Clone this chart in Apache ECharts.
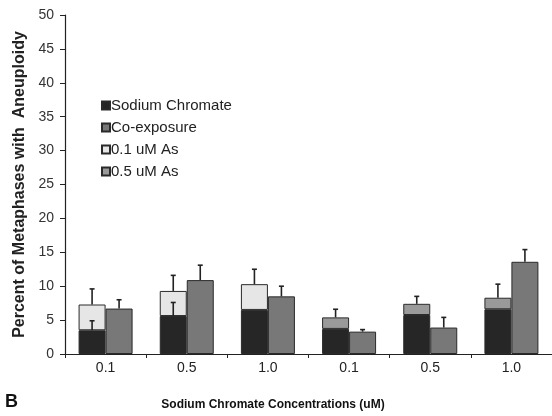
<!DOCTYPE html>
<html>
<head>
<meta charset="utf-8">
<script src="https://cdn.jsdelivr.net/npm/echarts@6/dist/echarts.min.js"></script>
<style>
  html, body { margin: 0; padding: 0; background: #fff; }
  #chart { width: 552px; height: 416px; }
</style>
</head>
<body>
<div id="chart"></div>
<script>
// Sodium chromate concentrations (uM), first three with 0.1 uM As, last three with 0.5 uM As
const categories = ['0.1', '0.5', '1.0', '0.1', '0.5', '1.0'];
const yTicks = [0, 5, 10, 15, 20, 25, 30, 35, 40, 45, 50];

// Percent of metaphases with aneuploidy (stacked segments)
const chromate = [3.5, 5.6, 6.5, 3.7, 5.75, 6.6];
const as01 = [3.8, 3.7, 3.8, null, null, null];
const as05 = [null, null, null, 1.7, 1.65, 1.7];
const coExposure = [6.7, 10.9, 8.5, 3.3, 3.9, 13.6];

// Upper ends of the error bars
const stackErrTop = [9.6, 11.6, 12.5, 6.6, 8.5, 10.3];
const chromateErrTop = [4.9, 7.6, null, null, null, null];
const coErrTop = [8.0, 13.1, 10.0, 3.6, 5.4, 15.4];

const FONT = 'Liberation Sans, Arial, sans-serif';
const BAR_W = 27;

function stackTotal(i) {
  return chromate[i] + (as01[i] || 0) + (as05[i] || 0);
}

function errData(bases, tops) {
  return categories.map((c, i) => tops[i] == null ? null : [i, bases[i], tops[i]]);
}

function errSeries(name, data, dx) {
  return {
    type: 'custom',
    name: name,
    z: 10,
    silent: true,
    data: data,
    renderItem: function (params, api) {
      if (api.value(2) == null || isNaN(api.value(2))) return;
      const lo = api.coord([api.value(0), api.value(1)]);
      const hi = api.coord([api.value(0), api.value(2)]);
      const x = lo[0] + dx;
      const cap = 2.5;
      const style = { stroke: '#222', lineWidth: 1.6 };
      return {
        type: 'group',
        children: [
          { type: 'line', shape: { x1: x, y1: lo[1], x2: x, y2: hi[1] }, style: style },
          { type: 'line', shape: { x1: x - cap, y1: hi[1], x2: x + cap, y2: hi[1] }, style: style }
        ]
      };
    }
  };
}

const chart = echarts.init(document.getElementById('chart'), null, { renderer: 'canvas' });

const barBorder = { borderColor: '#2a2a2a', borderWidth: 1 };

chart.setOption({
  animation: false,
  backgroundColor: '#fff',
  textStyle: { fontFamily: FONT },
  grid: { left: 65, top: 15, width: 490, height: 339 },
  legend: {
    orient: 'vertical',
    left: 96,
    top: 93,
    itemWidth: 8,
    itemHeight: 8,
    itemGap: 7,
    icon: 'rect',
    textStyle: { fontSize: 15, color: '#222', fontFamily: FONT, padding: [0, 0, 0, -4] },
    data: ['Sodium Chromate', 'Co-exposure', '0.1 uM As', '0.5 uM As']
  },
  xAxis: {
    type: 'category',
    data: categories,
    axisLine: { lineStyle: { color: '#222', width: 1.2 } },
    axisTick: { show: true, length: 4, lineStyle: { color: '#222' } },
    axisLabel: { fontSize: 14, color: '#222', margin: 7 }
  },
  yAxis: {
    type: 'value',
    min: yTicks[0],
    max: yTicks[yTicks.length - 1],
    interval: yTicks[1] - yTicks[0],
    name: 'Percent of Metaphases with  Aneuploidy',
    nameLocation: 'middle',
    nameGap: 30,
    nameTextStyle: { fontSize: 16, fontWeight: 'bold', color: '#222' },
    axisLine: { show: true, lineStyle: { color: '#222', width: 1.2 } },
    axisTick: { show: true, length: 5, lineStyle: { color: '#222' } },
    axisLabel: { fontSize: 14, color: '#333', margin: 11 },
    splitLine: { show: false }
  },
  series: [
    {
      name: 'Sodium Chromate', type: 'bar', stack: 'treat', barWidth: BAR_W, barGap: '0%',
      data: chromate, itemStyle: Object.assign({ color: '#262626' }, barBorder)
    },
    {
      name: '0.1 uM As', type: 'bar', stack: 'treat', barWidth: BAR_W, barGap: '0%',
      data: as01, itemStyle: Object.assign({ color: '#e6e6e6' }, barBorder)
    },
    {
      name: '0.5 uM As', type: 'bar', stack: 'treat', barWidth: BAR_W, barGap: '0%',
      data: as05, itemStyle: Object.assign({ color: '#9a9a9a' }, barBorder)
    },
    {
      name: 'Co-exposure', type: 'bar', barWidth: BAR_W, barGap: '0%',
      data: coExposure, itemStyle: Object.assign({ color: '#787878' }, barBorder)
    },
    errSeries('stackErr', errData(categories.map((c, i) => stackTotal(i)), stackErrTop), -BAR_W / 2),
    errSeries('chromateErr', errData(chromate, chromateErrTop), -BAR_W / 2),
    errSeries('coErr', errData(coExposure, coErrTop), BAR_W / 2)
  ],
  graphic: [
    {
      type: 'text', left: 5, top: 393,
      style: { text: 'B', font: 'bold 18px ' + FONT, fill: '#111' }
    },
    {
      type: 'text', x: 273, y: 405,
      style: {
        text: 'Sodium Chromate Concentrations (uM)',
        font: 'bold 12px ' + FONT, fill: '#111',
        textAlign: 'center', textVerticalAlign: 'middle'
      }
    }
  ]
});
</script>
</body>
</html>
